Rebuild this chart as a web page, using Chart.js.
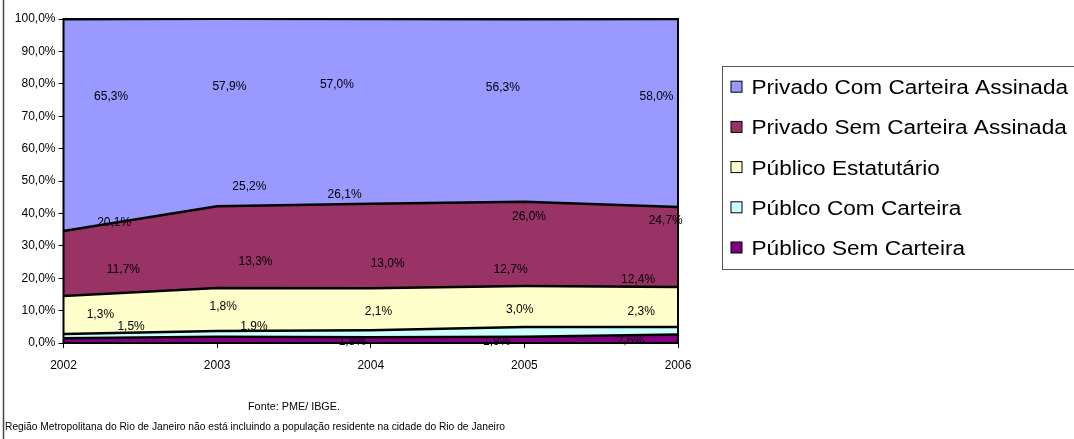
<!DOCTYPE html>
<html>
<head>
<meta charset="utf-8">
<script src="https://cdn.jsdelivr.net/npm/chart.js@4.4.1/dist/chart.umd.min.js"></script>
<style>
  html, body { margin: 0; padding: 0; background: #fff; }
  #wrap { position: relative; width: 1074px; height: 439px; }
</style>
</head>
<body>
<div id="wrap"><canvas id="chart" width="1074" height="439"></canvas></div>
<script>
// Ocupação por posição na ocupação, 2002-2006 (percentual sobre o total)
const years = ["2002", "2003", "2004", "2005", "2006"];
const publicoSemCarteira = [1.5, 1.9, 1.8, 1.9, 2.6];
const publicoComCarteira = [1.3, 1.8, 2.1, 3.0, 2.3];
const publicoEstatutario = [11.7, 13.3, 13.0, 12.7, 12.4];
const privadoSemCarteira = [20.1, 25.2, 26.1, 26.0, 24.7];
const privadoComCarteira = [65.3, 57.9, 57.0, 56.3, 58.0];
const yTickValues = [0, 10, 20, 30, 40, 50, 60, 70, 80, 90, 100];

const FONT = "'Liberation Sans', Arial, sans-serif";
const pct = (v) => v.toFixed(1).replace(".", ",") + "%";

// Value labels were dragged around by hand in the source sheet, so each one
// keeps its own spot: [category position, percent on the y scale].
const labelSpots = [
    [[0.44, 4.9], [1.24, 4.9], [1.88, 0.5], [2.82, 0.55], [3.69, 0.8]],
    [[0.24, 8.8], [1.04, 11.2], [2.05, 9.8], [2.97, 10.2], [3.76, 9.8]],
    [[0.39, 22.6], [1.25, 25.1], [2.11, 24.6], [2.91, 22.7], [3.74, 19.4]],
    [[0.33, 37.2], [1.21, 48.3], [1.83, 45.7], [3.03, 39.1], [3.92, 37.7]],
    [[0.31, 76.1], [1.08, 79.1], [1.78, 79.7], [2.86, 78.7], [3.86, 76.0]],
];

// Stacked bottom-up; legend lists them top-down.
const series = [
    { label: "Público Sem Carteira", data: publicoSemCarteira, color: "#800080" },
    { label: "Públco Com Carteira", data: publicoComCarteira, color: "#CCFFFF" },
    { label: "Público Estatutário", data: publicoEstatutario, color: "#FFFFCC" },
    { label: "Privado Sem Carteira Assinada", data: privadoSemCarteira, color: "#993366" },
    { label: "Privado Com Carteira Assinada", data: privadoComCarteira, color: "#9999FF" },
];

const datasets = series.map((s, i) => ({
    label: s.label,
    data: s.data,
    backgroundColor: s.color,
    borderColor: "#000",
    borderWidth: 2.5,
    pointRadius: 0,
    tension: 0,
    fill: i === 0 ? "origin" : "-1",
}));

// Plot frame, value labels, legend box and source notes.
const decorations = {
    id: "decorations",
    afterDatasetsDraw(chart) {
        const ctx = chart.ctx;
        const { left, top, right, bottom } = chart.chartArea;
        const xs = chart.scales.x;
        const ys = chart.scales.y;

        ctx.save();
        ctx.strokeStyle = "#000";
        ctx.lineWidth = 2;
        ctx.strokeRect(left, top, right - left, bottom - top);

        ctx.fillStyle = "#000";
        ctx.font = "12px " + FONT;
        ctx.textAlign = "center";
        ctx.textBaseline = "middle";
        series.forEach((s, si) => {
            s.data.forEach((v, i) => {
                const [cx, cy] = labelSpots[si][i];
                ctx.fillText(pct(v), xs.getPixelForValue(cx), ys.getPixelForValue(cy));
            });
        });
        ctx.restore();
    },
    afterDraw(chart) {
        const ctx = chart.ctx;
        ctx.save();

        // chart area border (only the left edge is inside the frame)
        ctx.strokeStyle = "#444";
        ctx.lineWidth = 1.5;
        ctx.beginPath();
        ctx.moveTo(3.5, 0);
        ctx.lineTo(3.5, 439);
        ctx.stroke();

        // legend
        const lx = 722.5, ly = 66.5;
        ctx.strokeStyle = "#555";
        ctx.lineWidth = 1;
        ctx.strokeRect(lx, ly, 420, 203);
        const items = series.slice().reverse();
        items.forEach((s, i) => {
            const yc = 86.7 + i * 40.2;
            ctx.fillStyle = s.color;
            ctx.fillRect(731, yc - 5.5, 11, 11);
            ctx.strokeStyle = "#000";
            ctx.lineWidth = 1;
            ctx.strokeRect(731, yc - 5.5, 11, 11);
            ctx.save();
            ctx.translate(751.5, yc + 7.5);
            ctx.scale(1.13, 1);
            ctx.fillStyle = "#000";
            ctx.font = "20px " + FONT;
            ctx.textAlign = "left";
            ctx.textBaseline = "alphabetic";
            ctx.fillText(s.label, 0, 0);
            ctx.restore();
        });

        // notes under the plot
        ctx.fillStyle = "#000";
        ctx.font = "11px " + FONT;
        ctx.textBaseline = "alphabetic";
        ctx.textAlign = "left";
        ctx.fillText("Fonte: PME/ IBGE.", 248, 410, 92);
        ctx.fillText("Região Metropolitana do Rio de Janeiro não está incluindo a população residente na cidade do Rio de Janeiro", 5, 430, 500);
        ctx.restore();
    },
};

new Chart(document.getElementById("chart").getContext("2d"), {
    type: "line",
    data: { labels: years, datasets },
    options: {
        responsive: false,
        animation: false,
        layout: { padding: { left: 0, top: 19, right: 396, bottom: 65 } },
        plugins: {
            legend: { display: false },
            tooltip: { enabled: false },
        },
        scales: {
            x: {
                offset: false,
                grid: { display: true, drawOnChartArea: false, drawTicks: true, tickLength: 5, color: "#000" },
                border: { display: true, color: "#000", width: 2 },
                ticks: { color: "#000", font: { family: FONT, size: 12 }, padding: 10, maxRotation: 0 },
                afterFit: (scale) => { scale.height = 31; },
            },
            y: {
                stacked: true,
                min: 0,
                max: 100,
                afterBuildTicks: (scale) => { scale.ticks = yTickValues.map((v) => ({ value: v })); },
                grid: { display: true, drawOnChartArea: false, drawTicks: true, tickLength: 5, color: "#000" },
                border: { display: true, color: "#000", width: 2 },
                ticks: { color: "#000", font: { family: FONT, size: 12 }, padding: 3, callback: (v) => pct(v) },
                afterFit: (scale) => { scale.width = 63.5; },
            },
        },
    },
    plugins: [decorations],
});
</script>
</body>
</html>
